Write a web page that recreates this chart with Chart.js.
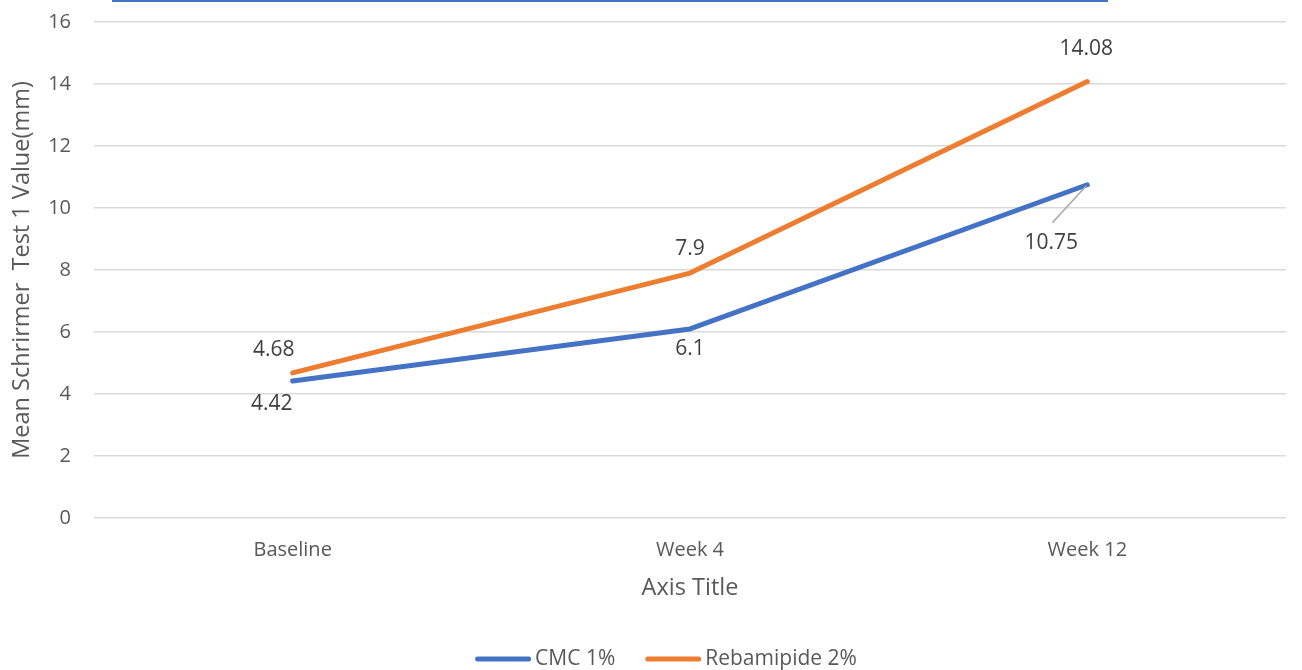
<!DOCTYPE html>
<html>
<head>
<meta charset="utf-8">
<script src="https://cdn.jsdelivr.net/npm/chart.js@4"></script>
<style>
  html, body { margin: 0; padding: 0; background: #fff; }
  #wrap { position: relative; width: 1302px; height: 670px; }
  #topRule { position: absolute; left: 112px; top: 0; width: 996px; height: 2px; background: #4472C4; }
</style>
</head>
<body>
<div id="wrap">
  <canvas id="chart" width="1302" height="670"></canvas>
  <div id="topRule"></div>
</div>
<script>
// Schirmer test means at each visit
const visits = ['Baseline', 'Week 4', 'Week 12'];
const cmcValues = [4.42, 6.1, 10.75];
const rebamipideValues = [4.68, 7.9, 14.08];
const seriesNames = ['CMC 1%', 'Rebamipide 2%'];
const yTicks = [0, 2, 4, 6, 8, 10, 12, 14, 16];

const FONT = "'Open Sans', sans-serif";
const TICK_COLOR = '#595959';
const LABEL_COLOR = '#404040';

// Where each value label sits relative to its point (px), and optional leader lines
const labelPlacement = [
  [{ dx: -21, dy: 23 }, { dx: 0, dy: 20 }, { dx: -36, dy: 58, leader: true }],
  [{ dx: -19, dy: -23 }, { dx: 0, dy: -24 }, { dx: -1, dy: -33 }]
];

const valueLabels = {
  id: 'valueLabels',
  afterDatasetsDraw(chart) {
    const ctx = chart.ctx;
    ctx.save();
    ctx.font = '21px ' + FONT;
    ctx.textAlign = 'center';
    ctx.textBaseline = 'middle';
    chart.data.datasets.forEach((ds, di) => {
      const meta = chart.getDatasetMeta(di);
      meta.data.forEach((pt, i) => {
        const p = labelPlacement[di][i];
        const lx = pt.x + p.dx, ly = pt.y + p.dy;
        if (p.leader) {
          ctx.strokeStyle = '#a6a6a6';
          ctx.lineWidth = 1.5;
          ctx.beginPath();
          ctx.moveTo(lx + 1, ly - 20);
          ctx.lineTo(pt.x - 1, pt.y + 1);
          ctx.stroke();
        }
        ctx.fillStyle = LABEL_COLOR;
        ctx.fillText(String(ds.data[i]), lx, ly);
      });
    });
    ctx.restore();
  }
};

// Legend drawn centred under the axis title
const bottomLegend = {
  id: 'bottomLegend',
  afterDraw(chart) {
    const ctx = chart.ctx;
    ctx.save();
    ctx.font = '21px ' + FONT;
    ctx.textBaseline = 'middle';
    ctx.textAlign = 'left';
    const lineW = 56, gap = 4, spacing = 30;
    const items = chart.data.datasets.map(ds => ({
      text: ds.label, color: ds.borderColor, w: lineW + gap + ctx.measureText(ds.label).width
    }));
    const total = items.reduce((s, it) => s + it.w, 0) + spacing * (items.length - 1);
    let x = chart.width / 2 + 15 - total / 2;
    const y = 659;
    items.forEach(it => {
      ctx.strokeStyle = it.color;
      ctx.lineWidth = 5;
      ctx.lineCap = 'round';
      ctx.beginPath();
      ctx.moveTo(x + 2.5, y);
      ctx.lineTo(x + lineW - 2.5, y);
      ctx.stroke();
      ctx.fillStyle = TICK_COLOR;
      ctx.fillText(it.text, x + lineW + gap, y);
      x += it.w + spacing;
    });
    ctx.restore();
  }
};

new Chart(document.getElementById('chart'), {
  type: 'line',
  data: {
    labels: visits,
    datasets: [
      { label: seriesNames[0], data: cmcValues, borderColor: '#4472C4', backgroundColor: '#4472C4' },
      { label: seriesNames[1], data: rebamipideValues, borderColor: '#ED7D31', backgroundColor: '#ED7D31' }
    ]
  },
  options: {
    responsive: false,
    animation: false,
    layout: { padding: { top: 22, right: 16, bottom: 68, left: 0 } },
    elements: {
      line: { borderWidth: 5, tension: 0, borderCapStyle: 'round', borderJoinStyle: 'round' },
      point: { radius: 0, hoverRadius: 0 }
    },
    plugins: {
      legend: { display: false },
      tooltip: { enabled: false }
    },
    scales: {
      x: {
        offset: true,
        grid: { display: false, drawTicks: false },
        border: { display: false },
        ticks: { color: TICK_COLOR, font: { family: FONT, size: 20 }, padding: 20 },
        title: { display: true, text: 'Axis Title', color: TICK_COLOR, font: { family: FONT, size: 23.5 }, padding: { top: 0, bottom: 0 } },
        afterFit(scale) { scale.height = 84; }
      },
      y: {
        min: 0, max: 16,
        afterBuildTicks(scale) { scale.ticks = yTicks.map(v => ({ value: v })); },
        grid: { color: '#d9d9d9', lineWidth: 1.5, drawTicks: false },
        border: { display: false },
        ticks: { color: TICK_COLOR, font: { family: FONT, size: 20 }, padding: 23 },
        title: { display: true, text: 'Mean Schrirmer  Test 1 Value(mm)', color: TICK_COLOR, font: { family: FONT, size: 23.5 }, padding: { top: 8, bottom: 0 } },
        afterFit(scale) {
          scale.width = 94;
          scale.paddingTop = 0;
          scale.paddingBottom = 0;
        }
      }
    }
  },
  plugins: [valueLabels, bottomLegend]
});
</script>
</body>
</html>
